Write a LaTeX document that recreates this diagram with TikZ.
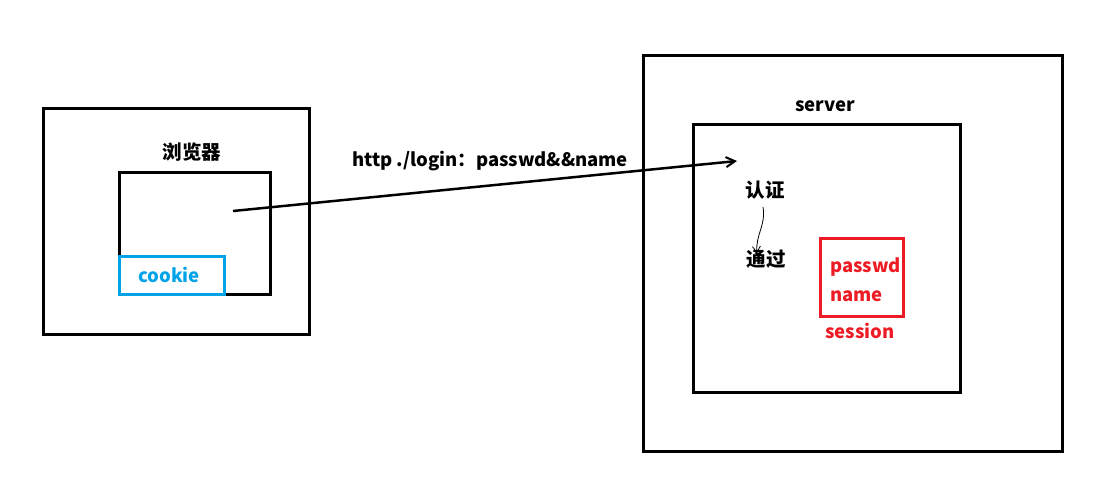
\documentclass[tikz,border=0pt]{standalone}
\usepackage{fontspec}
\setmainfont{Noto Sans CJK SC}
\usetikzlibrary{arrows.meta}
\definecolor{cookieblue}{RGB}{0,162,232}
\definecolor{sessred}{RGB}{237,28,36}
\tikzset{
 lbl/.style={font=\fontsize{18.5}{22}\selectfont\bfseries,inner sep=0pt},
 cjk/.style={font=\fontsize{19.5}{22}\selectfont\bfseries,inner sep=0pt},
}

\begin{document}
\begin{tikzpicture}[x=1pt,y=-1pt,>={Straight Barb[length=9pt,width=10pt,line width=2pt]}]
 \useasboundingbox (0,0) rectangle (1117,482);
 % browser
 \draw[line width=3pt] (43,108) rectangle (309,334);
 \draw[line width=3pt] (119,172) rectangle (270,294);
 \node[cjk] (browser) at (192,152) {浏览器};
 \draw[line width=3pt,cookieblue,fill=white] (119,256) rectangle (224,294);
 \node[lbl,cookieblue] (cookie) at (169,275) {cookie};
 % server
 \draw[line width=3pt] (643,55) rectangle (1062,451);
 \draw[line width=3pt] (693,124) rectangle (960,392);
 \node[lbl] (server) at (825,106) {server};
 % request
 \coordinate (req) at (233,211);
 \coordinate (auth in) at (737,161);
 \draw[->,line width=2.5pt] (req)--(auth in);
 \node[lbl] (login) at (490,161) {http ./login：passwd\&\&name};
 \node[cjk] (auth) at (765,190) {认证};
 \node[cjk] (pass) at (766,259) {通过};
 \draw[->,line width=0.8pt,>={Straight Barb[length=6pt,width=8pt]}] (763,207) to[out=-80,in=95] (757,253);
 % session
 \draw[line width=3pt,sessred] (820,238) rectangle (903,316);
 \node[lbl,sessred,anchor=west] (pwd) at (830,267) {passwd};
 \node[lbl,sessred,anchor=west] (name) at (830,296) {name};
 \node[lbl,sessred] (session) at (860,331) {session};
\end{tikzpicture}
\end{document}
